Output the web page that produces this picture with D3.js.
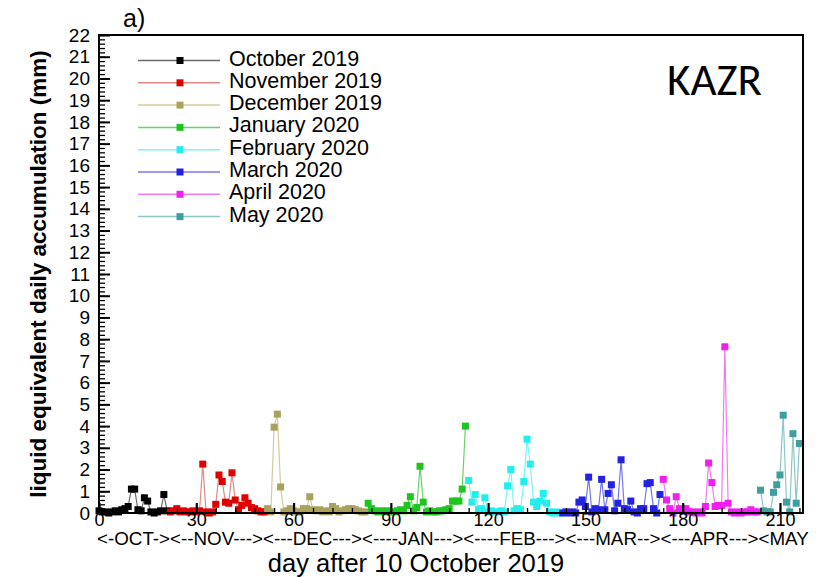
<!DOCTYPE html>
<html>
<head>
<meta charset="utf-8">
<script src="https://cdn.jsdelivr.net/npm/d3@7/dist/d3.min.js"></script>
<style>
  html, body { margin: 0; padding: 0; background: #fff; }
  svg { display: block; font-family: "Liberation Sans", Arial, Helvetica, sans-serif; }
</style>
</head>
<body>
<svg id="chart" width="816" height="577"></svg>
<script>
// Daily liquid-equivalent accumulation (mm), one array per month.
// Day index counts from 10 October 2019 (day 0).
const monthNames  = ["October 2019", "November 2019", "December 2019", "January 2020",
                     "February 2020", "March 2020", "April 2020", "May 2020"];
const monthStarts = [0, 22, 52, 83, 114, 143, 174, 204];

const octValues = [0.1, 0.05, 0.05, 0.0, 0.05, 0.1, 0.05, 0.15, 0.2, 0.3, 1.1, 1.1, 0.15, 0.1,
                   0.7, 0.55, 0.05, 0.0, 0.05, 0.1, 0.85, 0.1];
const novValues = [0.05, 0.1, 0.2, 0.05, 0.1, 0.05, 0.05, 0.1, 0.05, 0.1, 2.25, 0.05, 0.0, 0.05,
                   0.4, 1.75, 1.45, 0.5, 0.45, 1.85, 0.6, 0.15, 0.35, 0.7, 0.45, 0.25, 0.2, 0.1,
                   0.05, 0.05];
const decValues = [0.2, 0.05, 3.95, 4.55, 1.2, 0.05, 0.1, 0.2, 0.1, 0.05, 0.05, 0.2, 0.2, 0.75,
                   0.15, 0.1, 0.15, 0.05, 0.1, 0.05, 0.3, 0.2, 0.05, 0.1, 0.15, 0.2, 0.2, 0.15,
                   0.1, 0.05, 0.05];
const janValues = [0.45, 0.2, 0.1, 0.05, 0.1, 0.05, 0.1, 0.05, 0.05, 0.1, 0.15, 0.1, 0.35, 0.75,
                   0.1, 0.25, 2.15, 0.5, 0.05, 0.1, 0.05, 0.05, 0.1, 0.1, 0.15, 0.2, 0.55, 0.55,
                   0.55, 1.1, 4.0];
const febValues = [1.5, 0.5, 0.85, 0.15, 0.2, 0.7, 0.05, 0.1, 0.05, 0.05, 0.1, 0.05, 1.25, 2.0,
                   0.1, 0.2, 0.15, 1.45, 3.4, 2.25, 0.5, 0.3, 0.55, 0.9, 0.45, 0.05, 0.0, 0.05,
                   0.0];
const marValues = [0.0, 0.05, 0.0, 0.05, 0.0, 0.5, 0.6, 0.3, 1.65, 0.05, 0.2, 0.15, 1.55, 0.15,
                   0.9, 1.3, 0.1, 0.45, 2.45, 0.2, 0.15, 0.55, 0.05, 0.0, 0.2, 0.2, 1.35, 1.4,
                   0.2, 0.0, 0.85];
const aprValues = [1.55, 0.6, 0.2, 0.0, 0.75, 0.2, 0.1, 0.2, 0.05, 0.05, 0.0, 0.05, 0.0, 0.3,
                   2.3, 1.4, 0.3, 0.35, 0.35, 7.65, 0.45, 0.05, 0.0, 0.05, 0.0, 0.05, 0.05, 0.15,
                   0.05, 0.05];
const mayValues = [1.05, 0.1, 0.05, 0.05, 0.95, 1.3, 1.75, 4.5, 0.5, 0.05, 3.65, 0.45, 3.2];

const seriesValues = [octValues, novValues, decValues, janValues,
                      febValues, marValues, aprValues, mayValues];

const markerColors = ["#000000", "#e00000", "#a9a25c", "#1fc51f",
                      "#22eeee", "#2222e2", "#f01ef0", "#3f9f9f"];
const lineColors   = ["#6a6a6a", "#e08888", "#d2cc9c", "#66d466",
                      "#77f4f4", "#7777ee", "#f27af2", "#8cc6c6"];

const xTickValues = [0, 30, 60, 90, 120, 150, 180, 210];
const yTickValues = d3.range(0, 23);
const monthAxisText = "<-OCT-><--NOV---><---DEC---><----JAN---><----FEB---><---MAR--><---APR---><MAY";

// ---- layout ----
const svg = d3.select("#chart");
const plotLeft = 99, plotRight = 803, plotTop = 35, plotBottom = 513;

const x = d3.scaleLinear().domain([0, 217.1]).range([plotLeft, plotRight]);
const y = d3.scaleLinear().domain([0, 22]).range([plotBottom, plotTop]);

// ---- series: thin connecting lines, then square markers ----
const series = seriesValues.map((vals, i) => ({
  name: monthNames[i],
  points: vals.map((v, j) => ({ day: monthStarts[i] + j, value: v })),
  marker: markerColors[i],
  line: lineColors[i]
}));

const lineGen = d3.line().x(d => x(d.day)).y(d => y(d.value));
const plot = svg.append("g");

series.forEach(s => {
  plot.append("path")
    .datum(s.points)
    .attr("d", lineGen)
    .attr("fill", "none")
    .attr("stroke", s.line)
    .attr("stroke-width", 1.2);
});
const ms = 7;
series.forEach(s => {
  plot.selectAll(null)
    .data(s.points)
    .join("rect")
    .attr("x", d => x(d.day) - ms / 2)
    .attr("y", d => y(d.value) - ms / 2)
    .attr("width", ms)
    .attr("height", ms)
    .attr("fill", s.marker);
});

// ---- axes (ticks point into the plot) ----
const yMinor = svg.append("g").attr("transform", `translate(${plotLeft},0)`)
  .call(d3.axisLeft(y).tickValues(d3.range(0, 22.001, 0.2)).tickSize(-6).tickFormat(""));
yMinor.select(".domain").remove();
yMinor.selectAll("line").attr("stroke-width", 1.3);

const yAxis = svg.append("g").attr("transform", `translate(${plotLeft},0)`)
  .call(d3.axisLeft(y).tickValues(yTickValues).tickSize(-11).tickPadding(9));
yAxis.select(".domain").remove();
yAxis.selectAll("line").attr("stroke-width", 2);
yAxis.selectAll("text").attr("font-size", 19).attr("font-family", "Liberation Sans, Arial, sans-serif");

const xMinor = svg.append("g").attr("transform", `translate(0,${plotBottom})`)
  .call(d3.axisBottom(x).tickValues(d3.range(0, 217, 6)).tickSize(-5).tickFormat(""));
xMinor.select(".domain").remove();
xMinor.selectAll("line").attr("stroke-width", 1.3);

const xAxis = svg.append("g").attr("transform", `translate(0,${plotBottom})`)
  .call(d3.axisBottom(x).tickValues(xTickValues).tickSize(-10).tickPadding(1));
xAxis.select(".domain").remove();
xAxis.selectAll("line").attr("stroke-width", 2.2);
xAxis.selectAll("text")
  .attr("font-size", 18)
  .attr("dy", "0.66em")
  .attr("font-family", "Liberation Sans, Arial, sans-serif");

// frame
svg.append("rect")
  .attr("x", plotLeft).attr("y", plotTop)
  .attr("width", plotRight - plotLeft).attr("height", plotBottom - plotTop)
  .attr("fill", "none").attr("stroke", "#000").attr("stroke-width", 2);

// ---- labels ----
svg.append("text")
  .attr("x", 97).attr("y", 545)
  .attr("font-size", 18.8)
  .text(monthAxisText);

svg.append("text")
  .attr("x", 416).attr("y", 572)
  .attr("text-anchor", "middle")
  .attr("font-size", 25.5)
  .text("day after 10 October 2019");

svg.append("text")
  .attr("transform", "translate(46,274) rotate(-90)")
  .attr("text-anchor", "middle")
  .attr("font-size", 22.5)
  .attr("font-weight", "bold")
  .text("liquid equivalent daily accumulation (mm)");

svg.append("text")
  .attr("x", 123).attr("y", 27)
  .attr("font-size", 25)
  .text("a)");

svg.append("text")
  .attr("x", 667).attr("y", 95)
  .attr("font-size", 45)
  .attr("font-family", "Carlito, Calibri, 'Liberation Sans', sans-serif")
  .text("KAZR");

// ---- legend ----
const legend = svg.append("g");
series.forEach((s, i) => {
  const ly = 60.5 + i * 22.3;
  legend.append("line")
    .attr("x1", 138).attr("x2", 220).attr("y1", ly).attr("y2", ly)
    .attr("stroke", s.line).attr("stroke-width", 1.5);
  legend.append("rect")
    .attr("x", 180 - ms / 2).attr("y", ly - ms / 2)
    .attr("width", ms).attr("height", ms)
    .attr("fill", s.marker);
  legend.append("text")
    .attr("x", 229).attr("y", ly + 5)
    .attr("font-size", 21.5)
    .text(s.name);
});
</script>
</body>
</html>
